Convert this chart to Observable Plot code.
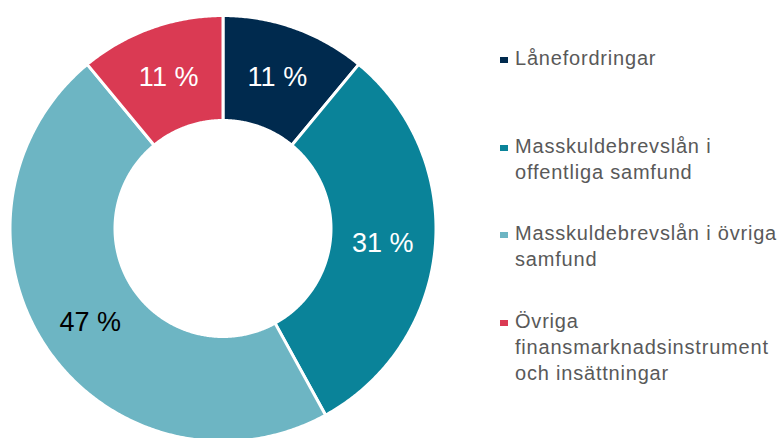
<!DOCTYPE html>
<html>
<head>
<meta charset="utf-8">
<script src="https://cdn.jsdelivr.net/npm/d3@7"></script>
<script src="https://cdn.jsdelivr.net/npm/@observablehq/plot@0.6"></script>
<style>
  html, body { margin: 0; padding: 0; background: #fff; overflow: hidden; }
  #wrap { position: relative; width: 781px; height: 438px; font-family: Arial, "Liberation Sans", sans-serif; }
  #legend { position: absolute; left: 0; top: 0; }
  .item { position: absolute; left: 500px; display: flex; align-items: flex-start; color: #595959; font-size: 20px; line-height: 26px; letter-spacing: 0.8px; white-space: nowrap; }
  .sw { width: 8px; height: 6px; margin-top: 12px; margin-right: 7px; flex: none; }
</style>
</head>
<body>
<div id="wrap"><div id="legend"></div></div>
<script>
const categories = [
  "Lånefordringar",
  "Masskuldebrevslån i offentliga samfund",
  "Masskuldebrevslån i övriga samfund",
  "Övriga finansmarknadsinstrument och insättningar"
];
const values = [11, 31, 47, 11];
const legendLines = [
  ["Lånefordringar"],
  ["Masskuldebrevslån i", "offentliga samfund"],
  ["Masskuldebrevslån i övriga", "samfund"],
  ["Övriga", "finansmarknadsinstrument", "och insättningar"]
];

const palette = ["#002A4E", "#0A8399", "#6DB5C3", "#DA3A53"];
const darkSlices = new Set([categories[0], categories[1], categories[3]]);

const W = 781, H = 438;
const cx = 222.5, cy = 228, R = 213, innerRatio = 108 / 213;

const data = categories.map((c, i) => ({category: c, value: values[i]}));
const arcs = d3.pie().sort(null).value(d => d.value)(data);

// polygon outline of each slice in unit coordinates
const pts = [];
for (const a of arcs) {
  const n = Math.max(2, Math.ceil((a.endAngle - a.startAngle) / (Math.PI / 360)));
  const ring = [];
  for (let k = 0; k <= n; k++) {
    const t = a.startAngle + (a.endAngle - a.startAngle) * k / n;
    ring.push({x: Math.sin(t), y: Math.cos(t)});
  }
  for (let k = n; k >= 0; k--) {
    const t = a.startAngle + (a.endAngle - a.startAngle) * k / n;
    ring.push({x: innerRatio * Math.sin(t), y: innerRatio * Math.cos(t)});
  }
  ring.push(ring[0]);
  for (const p of ring) pts.push({...p, category: a.data.category});
}

const mid = (1 + innerRatio) / 2;
const labels = arcs.map(a => {
  const t = (a.startAngle + a.endAngle) / 2;
  return {category: a.data.category, value: a.data.value, x: mid * Math.sin(t), y: mid * Math.cos(t)};
});

const chart = Plot.plot({
  width: W, height: H,
  margin: 0,
  style: {background: "transparent", fontFamily: "Arial, 'Liberation Sans', sans-serif"},
  x: {domain: [-1, 1], range: [cx - R, cx + R], axis: null},
  y: {domain: [-1, 1], range: [cy + R, cy - R], axis: null},
  color: {domain: categories, range: palette},
  marks: [
    Plot.line(pts, {x: "x", y: "y", z: "category", fill: "category", stroke: "white", strokeWidth: 3, strokeLinejoin: "round", curve: "linear"}),
    Plot.text(labels.filter(d => darkSlices.has(d.category)), {x: "x", y: "y", text: d => `${d.value} %`, fill: "white", fontSize: 27}),
    Plot.text(labels.filter(d => !darkSlices.has(d.category)), {x: "x", y: "y", dy: 4, text: d => `${d.value} %`, fill: "black", fontSize: 27})
  ]
});
document.getElementById("wrap").prepend(chart);

const legend = document.getElementById("legend");
categories.forEach((c, i) => {
  const item = document.createElement("div");
  item.className = "item";
  item.style.top = (45 + i * 87.5) + "px";
  const sw = document.createElement("div");
  sw.className = "sw";
  sw.style.background = palette[i];
  const txt = document.createElement("div");
  txt.innerHTML = legendLines[i].join("<br>");
  item.append(sw, txt);
  legend.append(item);
});
</script>
</body>
</html>
